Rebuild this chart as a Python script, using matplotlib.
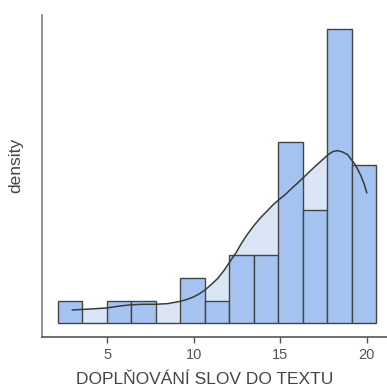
import matplotlib
matplotlib.use("Agg")
import matplotlib.pyplot as plt
import numpy as np

# ---- data ----
bin_start = 2.17
bin_width = 1.413
counts = [1, 0, 1, 1, 0, 2, 1, 3, 3, 8, 5, 13, 7]
n_total = sum(counts)

# density curve (x, height in "count" units)
kde_x = [3.0, 4.0, 5.0, 5.7, 6.4, 7.1, 7.8, 8.5, 9.15, 9.6, 10.0, 10.35, 10.65,
         11.0, 11.4, 11.75, 12.1, 12.45, 12.75, 13.1, 13.5, 13.9, 14.3, 14.6,
         14.95, 15.3, 15.6, 16.0, 16.4, 16.75, 17.1, 17.45, 17.75, 18.05, 18.3,
         18.6, 18.9, 19.1, 19.3, 19.5, 19.65, 19.85, 20.0]
kde_h = [0.59, 0.63, 0.68, 0.76, 0.82, 0.84, 0.84, 0.87, 0.96, 1.05, 1.17, 1.31, 1.47,
         1.70, 1.99, 2.33, 2.73, 3.12, 3.52, 3.93, 4.34, 4.70, 5.01, 5.25,
         5.48, 5.70, 5.92, 6.20, 6.49, 6.75, 7.00, 7.24, 7.45, 7.60, 7.64,
         7.58, 7.46, 7.25, 7.06, 6.78, 6.55, 6.16, 5.78]

xticks = [5, 10, 15, 20]
xlabel = "DOPLŇOVÁNÍ SLOV DO TEXTU"
ylabel = "density"

# ---- convert to density ----
scale = 1.0 / (n_total * bin_width)
edges = bin_start + bin_width * np.arange(len(counts) + 1)
dens = np.array(counts) * scale
kx = np.array(kde_x)
ky = np.array(kde_h) * scale

plt.rcParams['font.family'] = ['Liberation Sans', 'DejaVu Sans']

fig = plt.figure(figsize=(3.87, 3.89), dpi=100)
W, H = 387, 389
ax = fig.add_axes([42 / W, (H - 337.3) / H, (W - 42) / W, (337.3 - 15) / H])

bar_col = '#a4c3f0'
fill_col = '#dae5f6'
edge_col = '#444444'

ax.fill_between(kx, 0, ky, color=fill_col, lw=0, zorder=1)
ax.bar(edges[:-1], dens, width=bin_width, align='edge', color=bar_col,
       edgecolor=edge_col, linewidth=1.0, zorder=2)
ax.plot(kx, ky, color='#3a3a3a', lw=1.1, zorder=3)

ax.set_xlim(1.245, 21.17)
ax.set_ylim(-0.62 * scale, 13.64 * scale)

ax.set_xticks(xticks)
ax.set_xticklabels([str(t) for t in xticks])
ax.set_yticks([])
ax.tick_params(axis='x', length=4, width=1.0, color='#555555', labelsize=10.5,
               labelcolor='#555555', pad=4)

for s in ['top', 'right']:
    ax.spines[s].set_visible(False)
ax.spines['left'].set_color('#808080')
ax.spines['bottom'].set_color('#555555')
ax.spines['left'].set_linewidth(1.2)
ax.spines['bottom'].set_linewidth(1.2)

fig.text(205 / W, 1.5 / H, xlabel, ha='center', va='bottom', fontsize=12.5, color='#444444')
fig.text(16 / W, 1 - 165 / H, ylabel, ha='center', va='center', rotation=90,
         fontsize=12.5, color='#444444')

fig.savefig('out.png', dpi=100)
